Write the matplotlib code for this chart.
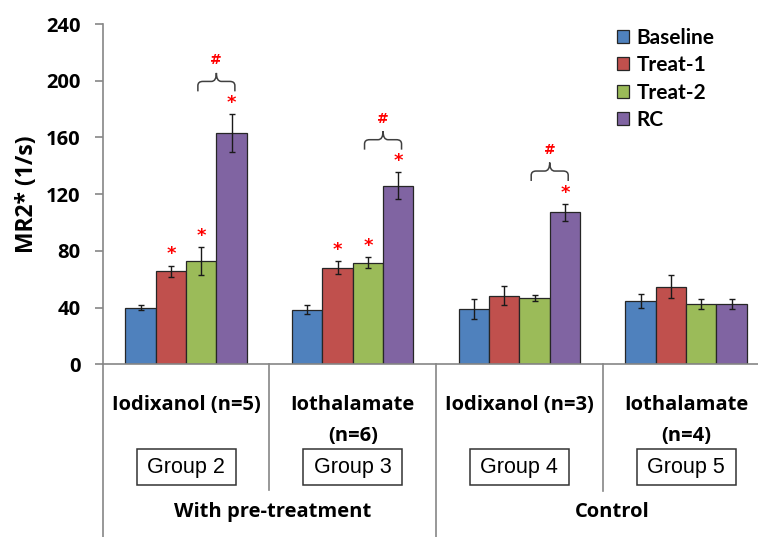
import numpy as np
import matplotlib
matplotlib.use("Agg")
import matplotlib.pyplot as plt
from matplotlib.path import Path
from matplotlib.patches import PathPatch, Rectangle
from matplotlib.transforms import blended_transform_factory

# MR2* per group, mean and error for each phase
groups = ["Iodixanol (n=5)", "Iothalamate\n(n=6)", "Iodixanol (n=3)", "Iothalamate\n(n=4)"]
group_ids = ["Group 2", "Group 3", "Group 4", "Group 5"]
series = ["Baseline", "Treat-1", "Treat-2", "RC"]

baseline = [40.0, 38.6, 38.8, 44.7]
baseline_err = [2.0, 3.0, 7.0, 5.0]
treat1 = [65.6, 68.2, 48.4, 54.8]
treat1_err = [4.0, 4.5, 6.5, 8.3]
treat2 = [72.7, 71.7, 46.6, 42.6]
treat2_err = [10.0, 4.0, 2.0, 3.7]
rc = [163.0, 125.9, 107.3, 42.6]
rc_err = [13.5, 9.5, 6.0, 3.5]

# significance marks: * vs baseline, # between Treat-2 and RC
star_treat1 = [1, 1, 0, 0]
star_treat2 = [1, 1, 0, 0]
star_rc = [1, 1, 1, 0]
hash_rc = [1, 1, 1, 0]

arms = ["With pre-treatment", "Control"]
colors = ["#4F81BD", "#C0504D", "#9BBB59", "#8064A2"]

plt.rcParams["font.family"] = ["Open Sans", "DejaVu Sans"]

fig = plt.figure(figsize=(7.58, 5.37), dpi=100)
ax = fig.add_axes([0.1355, 0.3216, 0.8795, 0.6337])

x = np.arange(len(groups))
w = 0.182
means = [baseline, treat1, treat2, rc]
errs = [baseline_err, treat1_err, treat2_err, rc_err]
for i, (m, e) in enumerate(zip(means, errs)):
    xs = x + (i - 1.5) * w
    ax.bar(xs, m, width=w, color=colors[i], edgecolor="#262626", linewidth=0.9,
           label=series[i], zorder=2)
    ax.errorbar(xs, m, yerr=e, fmt="none", ecolor="#1a1a1a", elinewidth=1,
                capsize=2.5, capthick=1, zorder=3)

# red asterisks above the error bars
for i, flags in [(1, star_treat1), (2, star_treat2), (3, star_rc)]:
    for g, f in enumerate(flags):
        if f:
            top = means[i][g] + errs[i][g]
            ax.text(x[g] + (i - 1.5) * w, top + 1.5, "*", color="red", fontsize=13,
                    fontweight="bold", ha="center", va="bottom",
                    family="DejaVu Sans", zorder=4)

# curly bracket over Treat-2 / RC with a #
for g, f in enumerate(hash_rc):
    if not f:
        continue
    top = means[3][g] + errs[3][g]
    x0 = x[g] + 0.5 * w - 0.02
    x1 = x[g] + 1.5 * w + 0.02
    xm = (x0 + x1) / 2
    yb = top + 16
    yf = yb + 7
    yt = yf + 6
    rx, ry = 0.03, 3
    verts = [(x0, yb), (x0, yf - ry), (x0, yf), (x0 + rx, yf), (xm - rx, yf), (xm, yf), (xm, yt),
             (xm, yt), (xm, yf), (xm + rx, yf), (x1 - rx, yf), (x1, yf), (x1, yf - ry), (x1, yb)]
    codes = [Path.MOVETO, Path.LINETO, Path.CURVE3, Path.CURVE3, Path.LINETO, Path.CURVE3, Path.CURVE3,
             Path.MOVETO, Path.CURVE3, Path.CURVE3, Path.LINETO, Path.CURVE3, Path.CURVE3, Path.LINETO]
    ax.add_patch(PathPatch(Path(verts, codes), fill=False, edgecolor="#404040", lw=1.1, zorder=4))
    ax.text(xm, yt + 4, "#", color="red", fontsize=10, fontweight="bold", ha="center",
            va="bottom", family="DejaVu Sans", zorder=4)

ax.set_xlim(-0.5, 3.5)
ax.set_ylim(0, 240)
ax.set_yticks(np.arange(0, 241, 40))
ax.set_xticks([])
ax.tick_params(axis="y", length=6, width=1.2, color="#868686", pad=10,
               labelsize=14.5)
for lab in ax.get_yticklabels():
    lab.set_fontweight("bold")
ax.set_ylabel("MR2* (1/s)", fontsize=16.5, fontweight="bold", labelpad=5)

for s in ["top", "right"]:
    ax.spines[s].set_visible(False)
for s in ["left", "bottom"]:
    ax.spines[s].set_color("#868686")
    ax.spines[s].set_linewidth(1.2)

# category area under the axis
tr = blended_transform_factory(ax.transData, ax.transAxes)
line_kw = dict(color="#868686", lw=1.2, transform=tr, clip_on=False)
ax.plot([-0.5, -0.5], [0, -0.6], **line_kw)
ax.plot([1.5, 1.5], [0, -0.6], **line_kw)
ax.plot([0.5, 0.5], [0, -0.368], **line_kw)
ax.plot([2.5, 2.5], [0, -0.372], **line_kw)

for g, name in enumerate(groups):
    ax.text(x[g], -0.091, name, transform=tr, ha="center", va="top",
            fontsize=14.5, fontweight="bold", linespacing=1.7)
    ax.add_patch(Rectangle((x[g] - 0.297, -0.356), 0.594, 0.106, transform=tr,
                           fill=False, edgecolor="#333333", lw=1.1, clip_on=False))
    ax.text(x[g], -0.303, group_ids[g], transform=tr, ha="center", va="center",
            fontsize=15.5, family="Liberation Sans")

ax.text(0.52, -0.435, arms[0], transform=tr, ha="center", va="center",
        fontsize=14.5, fontweight="bold")
ax.text(2.56, -0.435, arms[1], transform=tr, ha="center", va="center",
        fontsize=14.5, fontweight="bold")

fig.legend(loc="upper left", bbox_to_anchor=(0.8136, 0.948), frameon=False,
           handlelength=0.6, handleheight=0.6, handletextpad=0.35,
           labelspacing=0.35, borderpad=0, borderaxespad=0,
           prop={"family": "Lato", "weight": "bold", "size": 15})

fig.savefig("out.png", dpi=100)
